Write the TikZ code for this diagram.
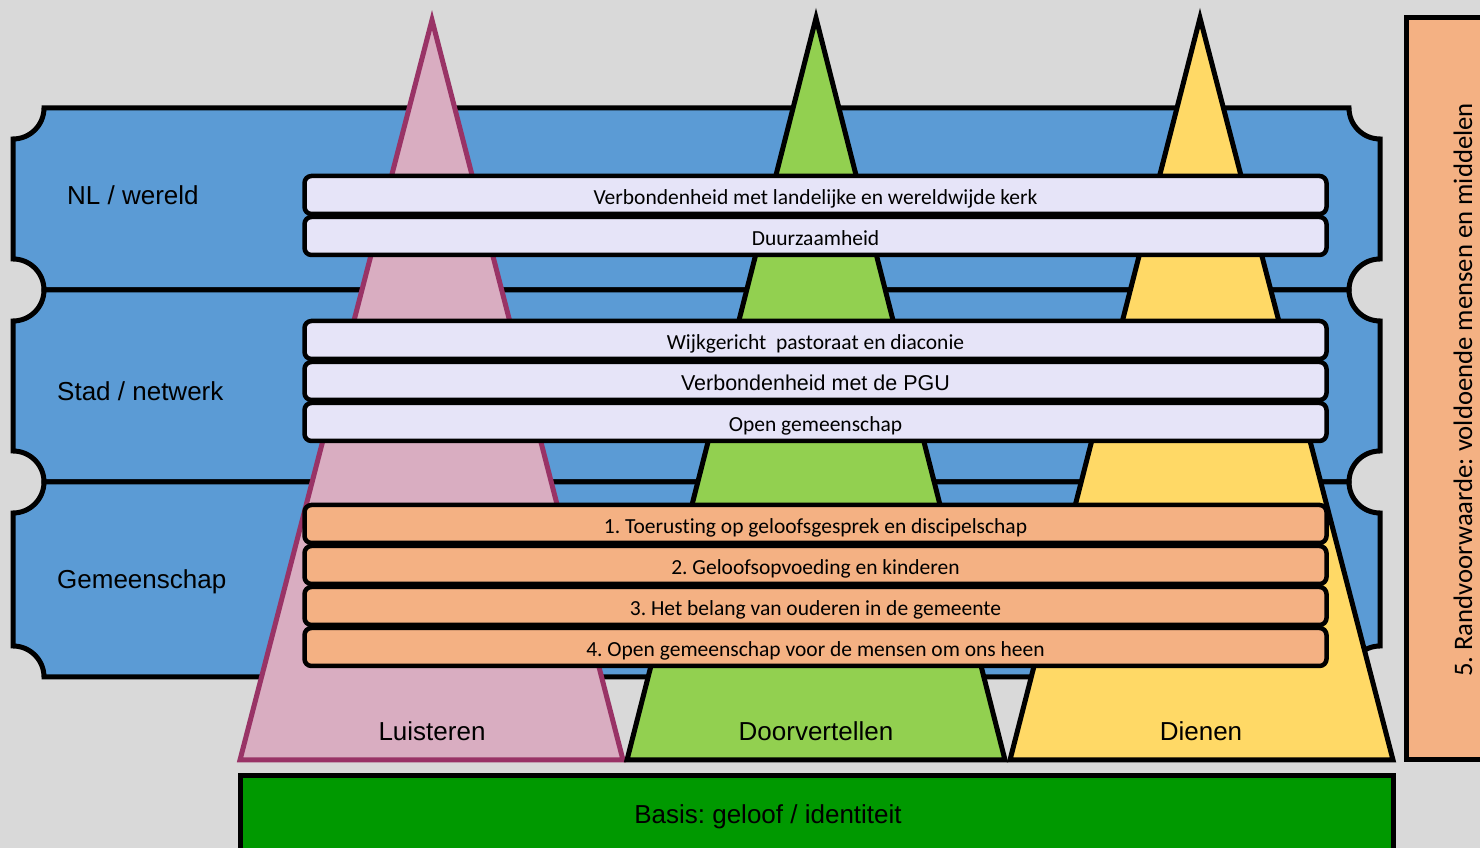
\documentclass[tikz,border=0pt]{standalone}
\usepackage{fontspec}
\setmainfont{Liberation Sans}
\newfontfamily\carl[Ligatures=NoCommon]{Carlito}
\frenchspacing
\definecolor{bg}{HTML}{D9D9D9}
\definecolor{bandblue}{HTML}{5B9BD5}
\definecolor{pinkfill}{HTML}{D9ADC1}
\definecolor{pinkline}{HTML}{993366}
\definecolor{trigreen}{HTML}{92D050}
\definecolor{triyellow}{HTML}{FFD966}
\definecolor{lav}{HTML}{E6E4F8}
\definecolor{orgbar}{HTML}{F4B183}
\definecolor{basegreen}{HTML}{009900}
\newcommand\bandshape[2]{%
  \draw[band] (44,#1) -- (1349,#1) arc[start angle=180,end angle=270,radius=31pt]
    -- (1380,{#2+31}) arc[start angle=90,end angle=180,radius=31pt]
    -- (44,#2) arc[start angle=0,end angle=90,radius=31pt]
    -- (13,{#1-31}) arc[start angle=270,end angle=360,radius=31pt] -- cycle;}
\begin{document}
\begin{tikzpicture}[x=1pt,y=1pt,
  band/.style={fill=bandblue,draw=black,line width=5pt},
  tri/.style={line width=5pt,line join=miter},
  bar/.style={draw=black,line width=4.5pt,rounded corners=7pt,minimum width=1022pt,
    minimum height=38pt,inner sep=0pt,text height=21pt,text depth=1pt,
    font=\carl\fontsize{21.5}{24}\selectfont},
  lavbar/.style={bar,fill=lav},
  orgbarst/.style={bar,fill=orgbar},
  lbl/.style={font=\fontsize{26}{30}\selectfont,inner sep=0pt},
]
\useasboundingbox (0,0) rectangle (1480,848);
\fill[bg] (0,0) rectangle (1480,848);
% bands
\bandshape{740}{558}
\bandshape{558}{366}
\bandshape{366}{171}
\node[lbl,anchor=west] (lnl) at (67,653) {NL / wereld};
\node[lbl,anchor=west] (lstad) at (57,457) {Stad / netwerk};
\node[lbl,anchor=west] (lgem) at (57,266) {Gemeenschap};
% triangles
\draw[tri,draw=pinkline,fill=pinkfill] (240,88) -- (432,828) -- (623,88) -- cycle;
\draw[tri,draw=black,fill=trigreen] (627,88) -- (816,830) -- (1005,88) -- cycle;
\draw[tri,draw=black,fill=triyellow] (1010,88) -- (1200,830) -- (1393,88) -- cycle;
\node[lbl] (tl) at (432,117) {Luisteren};
\node[lbl] (td) at (816,117) {Doorvertellen};
\node[lbl] (tdi) at (1201,117) {Dienen};
% bars
\node[lavbar] (b1) at (815.5,653) {Verbondenheid met landelijke en wereldwijde kerk};
\node[lavbar] (b2) at (815.5,612) {Duurzaamheid};
\node[lavbar] (b3) at (815.5,508) {Wijkgericht\ \ pastoraat en diaconie};
\node[lavbar,font=\fontsize{21.5}{24}\selectfont] (b4) at (815.5,467) {Verbondenheid met de PGU};
\node[lavbar] (b5) at (815.5,426) {Open gemeenschap};
\node[orgbarst] (b6) at (815.5,324) {1. Toerusting op geloofsgesprek en discipelschap};
\node[orgbarst] (b7) at (815.5,283) {2. Geloofsopvoeding en kinderen};
\node[orgbarst] (b8) at (815.5,242) {3. Het belang van ouderen in de gemeente};
\node[orgbarst] (b9) at (815.5,201) {4. Open gemeenschap voor de mensen om ons heen};
% base
\draw[line width=5pt,fill=basegreen] (240,72.5) rectangle (1393,-20);
\node[lbl] (basis) at (768,31) {Basis: geloof / identiteit};
% right box
\draw[line width=5pt,fill=orgbar] (1406.5,830.5) rectangle (1500,88);
\node[font=\carl\fontsize{26.7}{30}\selectfont,rotate=90,inner sep=0pt] (rand) at (1463,458)
  {5. Randvoorwaarde: voldoende mensen en middelen};
\end{tikzpicture}
\end{document}
